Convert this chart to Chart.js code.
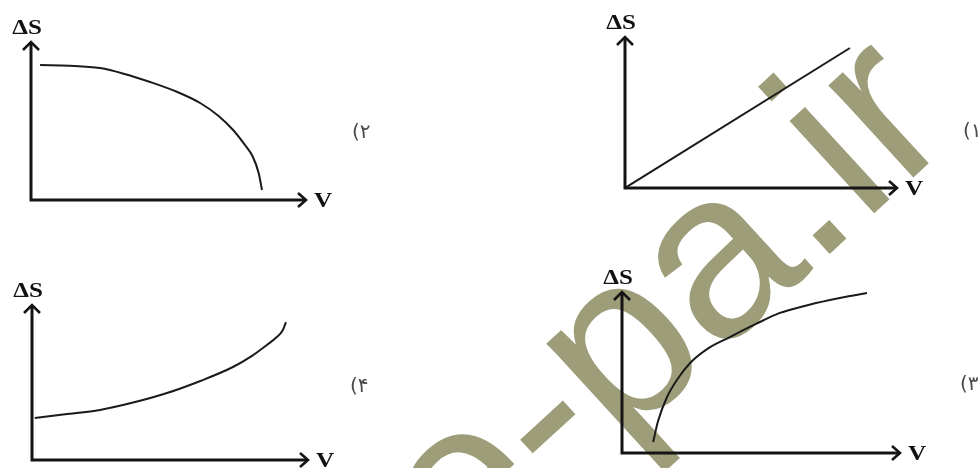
<!DOCTYPE html>
<html>
<head>
<meta charset="utf-8">
<script src="https://cdn.jsdelivr.net/npm/chart.js@4.4.1/dist/chart.umd.min.js"></script>
<style>
    body { margin: 0; background: #ffffff; }
    #page { position: relative; width: 980px; height: 468px; overflow: hidden; background: #ffffff; }
    #page canvas { position: absolute; }
</style>
</head>
<body>
<div id="page">
    <canvas id="watermark" width="980" height="468" style="left:0;top:0"></canvas>
    <canvas id="chart1" width="490" height="234" style="left:490px;top:0"></canvas>
    <canvas id="chart2" width="490" height="234" style="left:0;top:0"></canvas>
    <canvas id="chart3" width="490" height="234" style="left:490px;top:234px"></canvas>
    <canvas id="chart4" width="490" height="234" style="left:0;top:234px"></canvas>
</div>
<script>
// axis range shared by all four sketches (arrow tip = axisMax)
const axisMax = 10;
const axisTitles = ['ΔS', 'V'];
const optionLabels = ['(۱', '(۲', '(۳', '(۴'];
const watermarkText = 'e-pa.ir';

// option 1: straight line through the origin
const line1X = [0, 8.27];
const line1Y = [0, 9.27];

// option 2: flat start, falls steeply at the end
const curve2X = [0.33, 1.4, 2.51, 3.4, 4.33, 5.3, 6.15, 6.8, 7.35, 7.75, 8.07, 8.28, 8.4];
const curve2Y = [8.54, 8.5, 8.35, 7.98, 7.47, 6.85, 6.14, 5.35, 4.43, 3.55, 2.72, 1.7, 0.63];

// option 3: rises quickly then levels off
const curve3X = [1.12, 1.3, 1.62, 2.0, 2.45, 3.1, 3.88, 4.8, 5.68, 6.6, 7.48, 8.2, 8.81];
const curve3Y = [0.68, 2.0, 3.48, 4.6, 5.59, 6.5, 7.2, 8.0, 8.7, 9.15, 9.5, 9.75, 9.94];

// option 4: starts above zero and curves upward
const curve4X = [0.1, 1.2, 2.46, 3.7, 4.89, 6.1, 7.28, 8.0, 8.51, 8.85, 9.09, 9.2];
const curve4Y = [2.71, 2.95, 3.23, 3.72, 4.32, 5.1, 6.0, 6.75, 7.42, 7.9, 8.39, 8.9];

function toPoints(xs, ys) {
    return xs.map((x, i) => ({ x: x, y: ys[i] }));
}

// draws the arrowed axes, the axis names and the option number
const sketchAxes = {
    id: 'sketchAxes',
    afterDraw(chart, args, opts) {
        const ctx = chart.ctx;
        const xs = chart.scales.x;
        const ys = chart.scales.y;
        const ox = xs.getPixelForValue(0);
        const oy = ys.getPixelForValue(0);
        const tx = xs.getPixelForValue(axisMax);
        const ty = ys.getPixelForValue(axisMax);

        ctx.save();
        ctx.strokeStyle = '#141414';
        ctx.lineWidth = 3;
        ctx.beginPath();
        ctx.moveTo(ox, ty + 1);
        ctx.lineTo(ox, oy);
        ctx.lineTo(tx - 1, oy);
        ctx.stroke();

        ctx.lineWidth = 2.6;
        ctx.beginPath();
        ctx.moveTo(tx - 8, oy - 7);
        ctx.lineTo(tx, oy);
        ctx.lineTo(tx - 8, oy + 7);
        ctx.moveTo(ox - 8, ty + 8);
        ctx.lineTo(ox, ty);
        ctx.lineTo(ox + 8, ty + 8);
        ctx.stroke();

        ctx.fillStyle = '#111111';
        ctx.textBaseline = 'alphabetic';

        // ΔS above the vertical arrow
        ctx.save();
        ctx.translate(ox - 4, ty - 8);
        ctx.scale(1.25, 1);
        ctx.font = 'bold 20px "Liberation Serif"';
        ctx.textAlign = 'center';
        ctx.fillText(axisTitles[0], 0, 0);
        ctx.restore();

        // V after the horizontal arrow
        ctx.save();
        ctx.translate(tx + 8, oy + 7);
        ctx.scale(1.15, 1);
        ctx.font = 'bold 22px "Liberation Serif"';
        ctx.textAlign = 'left';
        ctx.fillText(axisTitles[1], 0, 0);
        ctx.restore();

        ctx.font = '20px "DejaVu Sans"';
        ctx.fillStyle = '#4a4a4a';
        ctx.textAlign = 'left';
        ctx.textBaseline = 'middle';
        ctx.fillText(opts.label, tx + opts.labelDx, oy + opts.labelDy);

        ctx.restore();
    }
};

function makeSketch(canvasId, points, padding, label, labelDx, labelDy) {
    const canvas = document.getElementById(canvasId);
    if (!canvas) {
        console.error('Canvas not found:', canvasId);
        return;
    }
    new Chart(canvas.getContext('2d'), {
        type: 'line',
        data: {
            datasets: [{
                data: points,
                borderColor: '#1a1a1a',
                borderWidth: 2,
                pointRadius: 0,
                fill: false,
                cubicInterpolationMode: 'monotone'
            }]
        },
        options: {
            responsive: false,
            animation: false,
            devicePixelRatio: 1,
            layout: { padding: padding },
            scales: {
                x: { type: 'linear', min: 0, max: axisMax, display: false },
                y: { type: 'linear', min: 0, max: axisMax, display: false }
            },
            plugins: {
                legend: { display: false },
                tooltip: { enabled: false },
                sketchAxes: { label: label, labelDx: labelDx, labelDy: labelDy }
            }
        },
        plugins: [sketchAxes]
    });
}

// site watermark, rotated; placed so the '.' lands where it is in the scan
function drawWatermark() {
    const ctx = document.getElementById('watermark').getContext('2d');
    const size = 237;
    const angle = 42.5 * Math.PI / 180;
    const dir = [Math.cos(angle), -Math.sin(angle)];
    const up = [-Math.sin(angle), -Math.cos(angle)];
    ctx.font = size + 'px "Liberation Sans"';
    const along = ctx.measureText(watermarkText.slice(0, 4)).width + 0.14 * size;
    const lift = 0.052 * size;
    const sx = 830 - along * dir[0] - lift * up[0];
    const sy = 237 - along * dir[1] - lift * up[1];
    ctx.save();
    ctx.translate(sx, sy);
    ctx.rotate(-angle);
    ctx.fillStyle = 'rgb(158, 157, 122)';
    ctx.textAlign = 'left';
    ctx.textBaseline = 'alphabetic';
    ctx.fillText(watermarkText, 0, 0);
    ctx.restore();
}

drawWatermark();
makeSketch('chart1', toPoints(line1X, line1Y), { left: 135, right: 83, top: 37, bottom: 46 }, optionLabels[0], 66, -56);
makeSketch('chart2', toPoints(curve2X, curve2Y), { left: 31, right: 184, top: 42, bottom: 34 }, optionLabels[1], 46, -67);
makeSketch('chart3', toPoints(curve3X, curve3Y), { left: 132, right: 80, top: 58, bottom: 15 }, optionLabels[2], 60, -68);
makeSketch('chart4', toPoints(curve4X, curve4Y), { left: 32, right: 182, top: 71, bottom: 8 }, optionLabels[3], 42, -73);
</script>
</body>
</html>
